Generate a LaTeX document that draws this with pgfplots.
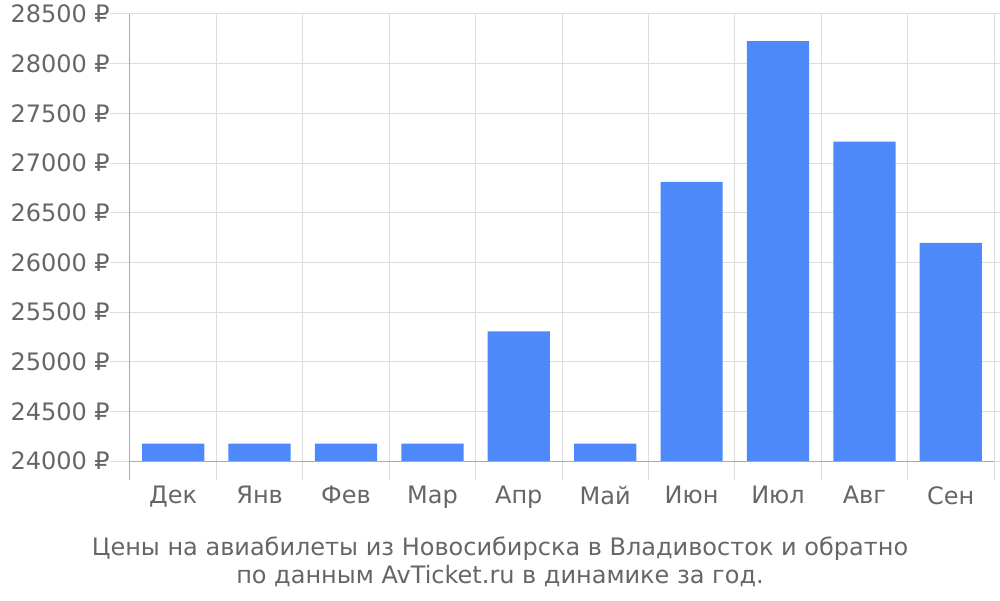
\documentclass[border=0pt]{standalone}
\usepackage{fontspec}
\setmainfont{DejaVu Sans}
\usepackage{pgfplots}
\pgfplotsset{compat=1.18}
\definecolor{barc}{HTML}{4D89F9}
\definecolor{txt}{HTML}{666666}
\definecolor{grd}{HTML}{DDDDDD}
\definecolor{axl}{HTML}{AAAAAA}
\begin{document}
\begin{tikzpicture}[x=1pt,y=1pt]
\begin{axis}[
  name=ax,
  scale only axis, width=864pt, height=466pt,
  xmin=-0.5, xmax=9.5, ymin=-191, ymax=4500,
  axis line style={draw=none},
  xtick={0,...,9},
  xticklabels={Дек,Янв,Фев,Мар,Апр,Май,Июн,Июл,Авг,Сен},
  minor xtick={-0.5,0.5,...,9.5},
  xminorgrids, minor grid style={grd, line width=1pt},
  xtick style={draw=none},
  minor tick length=0pt,
  ytick={0,500,...,4500},
  yticklabels={24000 ₽,24500 ₽,25000 ₽,25500 ₽,26000 ₽,26500 ₽,27000 ₽,27500 ₽,28000 ₽,28500 ₽},
  ymajorgrids, major grid style={grd, line width=1pt},
  ytick align=outside, major tick length=20pt,
  ytick style={grd, line width=1pt},
  tick label style={font=\fontsize{24}{28}\selectfont, text=txt, inner sep=0pt},
  yticklabel style={anchor=east},
  xticklabel style={anchor=north, yshift=-6pt},
  y filter/.expression={y-24000},
  clip=false,
]
\addplot[ybar, bar width=0.72, fill=barc, draw=none] coordinates {
  (0,24175) (1,24175) (2,24175) (3,24175) (4,25305)
  (5,24175) (6,26810) (7,28228) (8,27215) (9,26195)
};
\draw[axl, line width=1pt] (rel axis cs:0,0.04072) -- (rel axis cs:1,0.04072);
\draw[axl, line width=1pt] (rel axis cs:0,0) -- (rel axis cs:0,1);
\end{axis}
\path (ax.north west) ++(-130,14) coordinate (TL);
\node[text=txt, align=center, font=\fontsize{24}{28}\selectfont] at ([shift={(500,-562)}]TL) {Цены на авиабилеты из Новосибирска в Владивосток и обратно\\по данным AvTicket.ru в динамике за год.};
\pgfresetboundingbox
\path[use as bounding box] (TL) rectangle ([shift={(1000,-600)}]TL);
\end{tikzpicture}
\end{document}
